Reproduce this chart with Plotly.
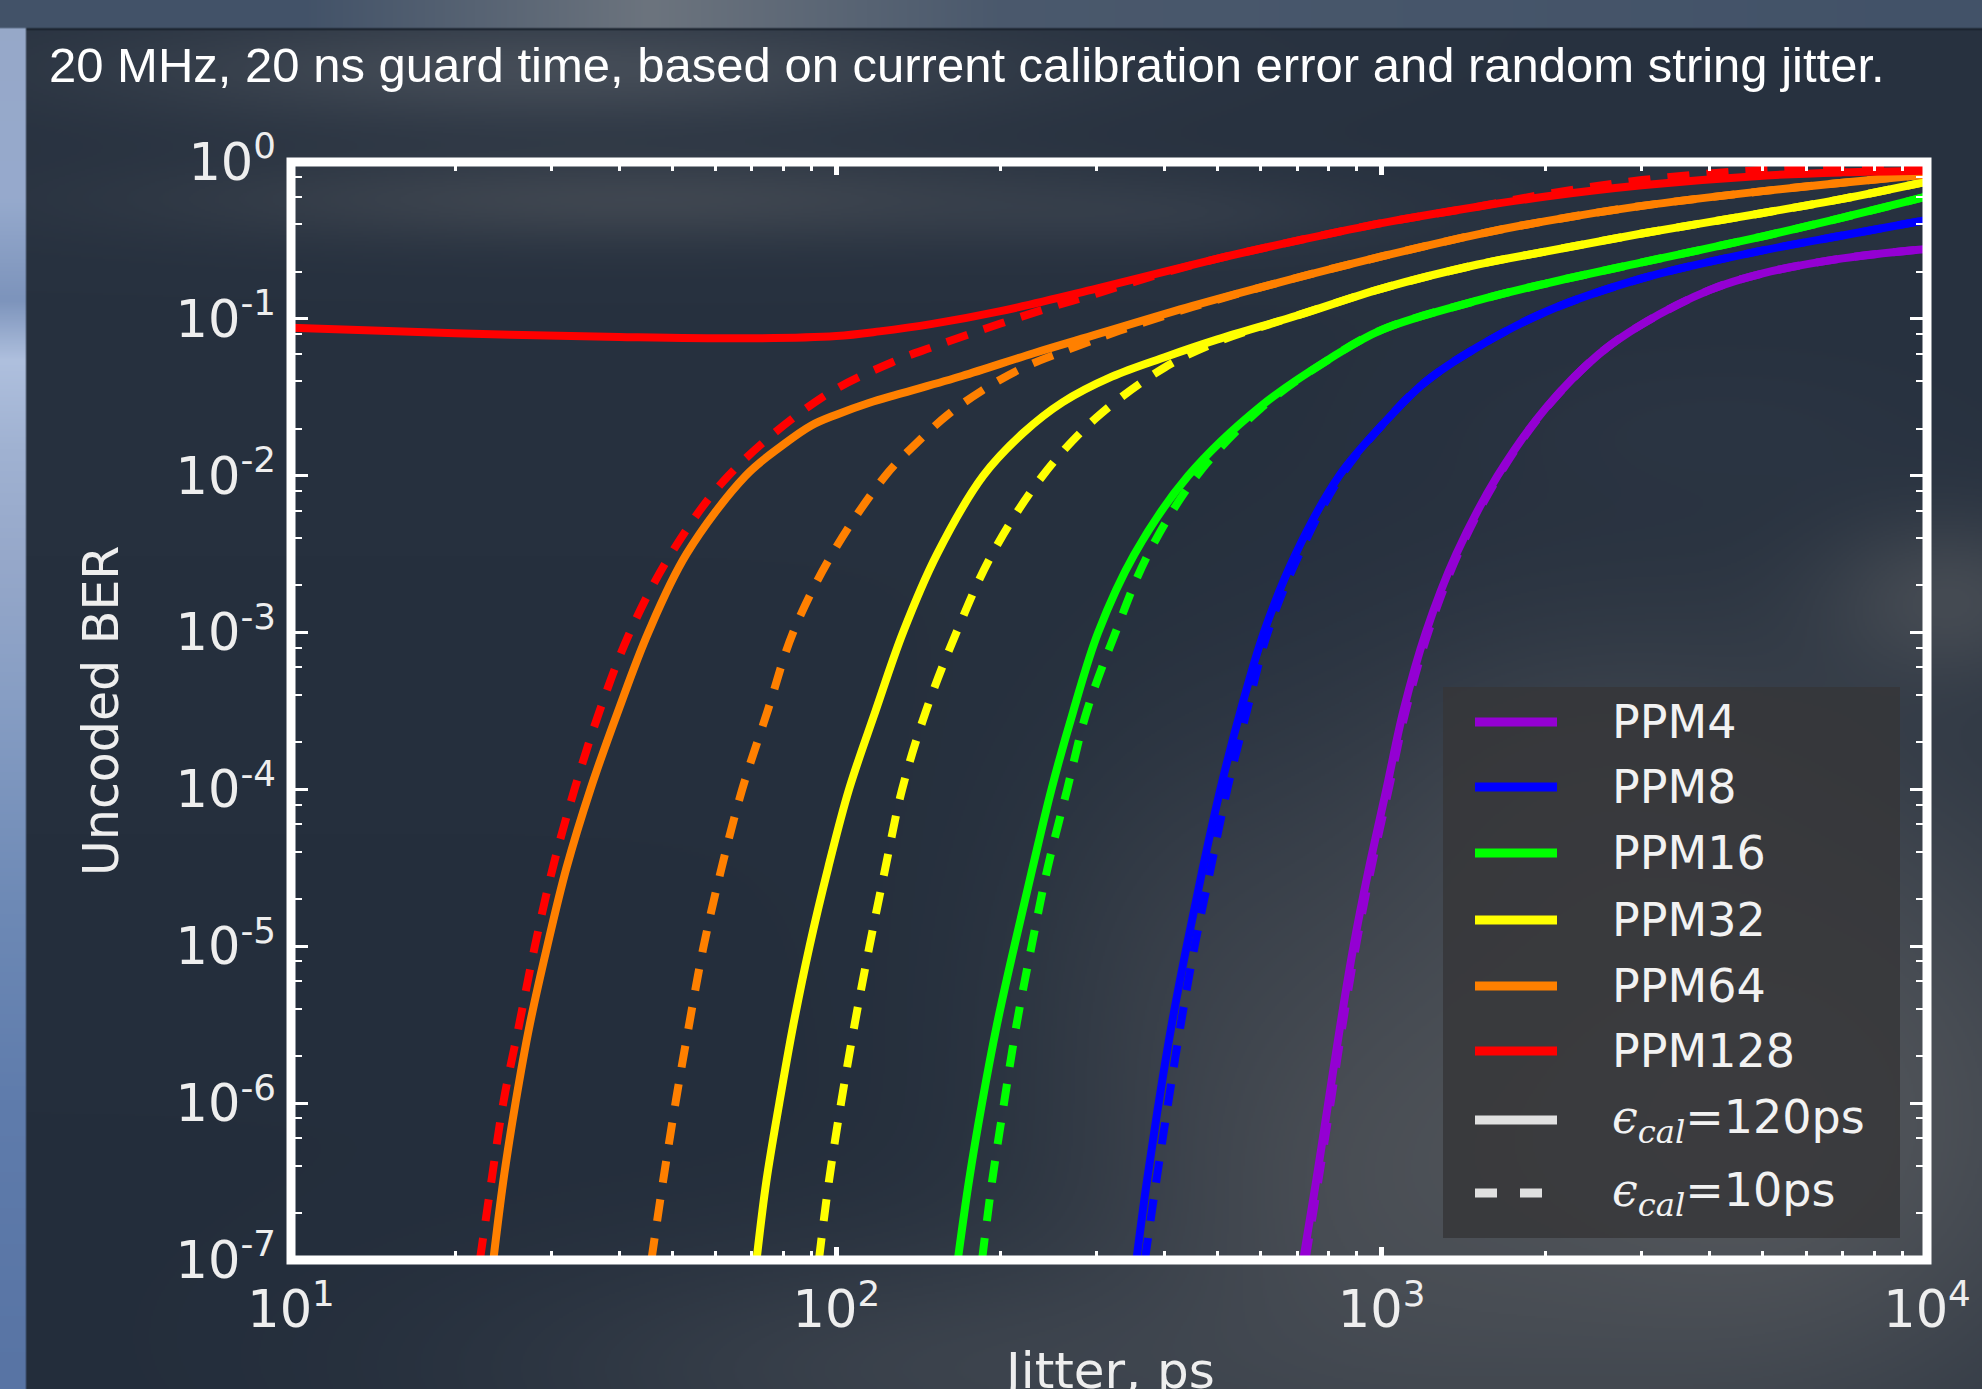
import base64
import struct
import zlib

import numpy as np
import plotly.graph_objects as go

# ---------------------------------------------------------------------------
# Uncoded BER versus timing jitter for PPM orders 4..128
# (20 MHz, 20 ns guard time), two calibration errors per order.
# ---------------------------------------------------------------------------

# PPM4
ppm4_jit_120 = [718, 758, 798, 840, 888, 948, 1020, 1096, 1205, 1370, 1632,
                2000, 2500, 3000, 4000, 5000, 7000, 10000]
ppm4_ber_120 = [1e-7, 3.16e-7, 1e-6, 3.16e-6, 1e-5, 3.16e-5, 1e-4, 3.16e-4,
                1e-3, 3.16e-3, 1e-2, 0.0270, 0.0594, 0.0923, 0.153, 0.195,
                0.243, 0.279]
ppm4_jit_10 = [725, 765, 806, 848, 897, 957, 1030, 1107, 1217, 1380, 1640,
               2000, 2500, 3000, 4000, 5000, 7000, 10000]
ppm4_ber_10 = [1e-7, 3.16e-7, 1e-6, 3.16e-6, 1e-5, 3.16e-5, 1e-4, 3.16e-4,
               1e-3, 3.16e-3, 1e-2, 0.0268, 0.0594, 0.0923, 0.153, 0.195,
               0.243, 0.279]

# PPM8
ppm8_jit_120 = [355, 371, 390, 412, 439, 470, 506, 551, 608, 695, 836,
                1000, 1200, 1500, 2000, 3000, 5000, 7000, 10000]
ppm8_ber_120 = [1e-7, 3.16e-7, 1e-6, 3.16e-6, 1e-5, 3.16e-5, 1e-4, 3.16e-4,
                1e-3, 3.16e-3, 1e-2, 0.0209, 0.0394, 0.0662, 0.111, 0.181,
                0.273, 0.340, 0.427]
ppm8_jit_10 = [368, 386, 406, 428, 454, 486, 521, 566, 618, 706, 843,
               1000, 1200, 1500, 2000, 3000, 5000, 7000, 10000]
ppm8_ber_10 = [1e-7, 3.16e-7, 1e-6, 3.16e-6, 1e-5, 3.16e-5, 1e-4, 3.16e-4,
               1e-3, 3.16e-3, 1e-2, 0.0209, 0.0394, 0.0662, 0.111, 0.181,
               0.273, 0.340, 0.427]

# PPM16
ppm16_jit_120 = [167, 175, 185, 197, 212, 229, 248, 272, 302, 352, 442,
                 600, 800, 1000, 1500, 2000, 3000, 5000, 7000, 10000]
ppm16_ber_120 = [1e-7, 3.16e-7, 1e-6, 3.16e-6, 1e-5, 3.16e-5, 1e-4, 3.16e-4,
                 1e-3, 3.16e-3, 1e-2, 0.0277, 0.0552, 0.0851, 0.131, 0.168,
                 0.229, 0.336, 0.442, 0.603]
ppm16_jit_10 = [185, 193, 203, 214, 228, 244, 265, 288, 325, 373, 458,
                600, 800, 1000, 1500, 2000, 3000, 5000, 7000, 10000]
ppm16_ber_10 = [1e-7, 3.16e-7, 1e-6, 3.16e-6, 1e-5, 3.16e-5, 1e-4, 3.16e-4,
                1e-3, 3.16e-3, 1e-2, 0.0268, 0.0552, 0.0851, 0.131, 0.168,
                0.229, 0.336, 0.442, 0.603]

# PPM32
ppm32_jit_120 = [71.4, 74.4, 78.6, 83.4, 89.3, 96.6, 105.5, 118, 132.5, 153, 186,
                 220, 260, 320, 400, 500, 700, 1000, 1500, 2000, 3000, 5000,
                 7000, 10000]
ppm32_ber_120 = [1e-7, 3.16e-7, 1e-6, 3.16e-6, 1e-5, 3.16e-5, 1e-4, 3.16e-4,
                 1e-3, 3.16e-3, 1e-2, 0.0187, 0.0294, 0.0428, 0.0570, 0.0740,
                 0.105, 0.156, 0.222, 0.269, 0.350, 0.473, 0.582, 0.750]
ppm32_jit_10 = [92.9, 96.9, 102, 108, 115, 123, 132, 146, 166, 193, 239,
                300, 400, 500, 700, 1000, 1500, 2000, 3000, 5000, 7000, 10000]
ppm32_ber_10 = [1e-7, 3.16e-7, 1e-6, 3.16e-6, 1e-5, 3.16e-5, 1e-4, 3.16e-4,
                1e-3, 3.16e-3, 1e-2, 0.0235, 0.0490, 0.0713, 0.105, 0.156,
                0.222, 0.269, 0.350, 0.473, 0.582, 0.750]

# PPM64
ppm64_jit_120 = [23.5, 24.5, 25.8, 27.4, 29.5, 32.0, 35.4, 39.8, 45.2, 53.1,
                 68.2, 80, 90, 100, 115, 130, 170, 230, 300, 450, 650, 1000,
                 1500, 2000, 3000, 5000, 7000, 10000]
ppm64_ber_120 = [1e-7, 3.16e-7, 1e-6, 3.16e-6, 1e-5, 3.16e-5, 1e-4, 3.16e-4,
                 1e-3, 3.16e-3, 1e-2, 0.0158, 0.0209, 0.0245, 0.0292, 0.0331,
                 0.0432, 0.0604, 0.0796, 0.121, 0.171, 0.250, 0.346, 0.420,
                 0.525, 0.652, 0.738, 0.832]
ppm64_jit_10 = [45.8, 48.1, 50.7, 53.7, 57.1, 61.6, 67.2, 74.8, 83.3, 98.2,
                123, 140, 160, 185, 220, 260, 330, 450, 650, 1000, 1500, 2000,
                3000, 5000, 7000, 10000]
ppm64_ber_10 = [1e-7, 3.16e-7, 1e-6, 3.16e-6, 1e-5, 3.16e-5, 1e-4, 3.16e-4,
                1e-3, 3.16e-3, 1e-2, 0.0160, 0.0244, 0.0349, 0.0488, 0.0617,
                0.0839, 0.119, 0.171, 0.250, 0.346, 0.420, 0.525, 0.652,
                0.738, 0.832]

# PPM128
ppm128_jit_120 = [10, 20, 40, 70, 100, 120, 150, 200, 300, 500, 700, 1000,
                  1500, 2000, 3000, 5000, 7000, 10000]
ppm128_ber_120 = [0.0877, 0.0809, 0.0767, 0.0752, 0.0778, 0.0832, 0.0929,
                  0.112, 0.156, 0.242, 0.315, 0.408, 0.519, 0.602, 0.710,
                  0.818, 0.859, 0.881]
ppm128_jit_10 = [22.2, 23.3, 24.5, 26.2, 28.0, 30.2, 33.1, 36.8, 41.8, 49.7,
                 63.4, 94.2, 130, 150, 200, 250, 300, 400, 500, 700, 1000,
                 1500, 2000, 3000, 5000, 7000, 10000]
ppm128_ber_10 = [1e-7, 3.16e-7, 1e-6, 3.16e-6, 1e-5, 3.16e-5, 1e-4, 3.16e-4,
                 1e-3, 3.16e-3, 1e-2, 0.0316, 0.055, 0.066, 0.0933, 0.120,
                 0.145, 0.197, 0.242, 0.315, 0.408, 0.519, 0.624, 0.767,
                 0.891, 0.923, 0.938]

series_names = ["PPM4", "PPM8", "PPM16", "PPM32", "PPM64", "PPM128"]
series_colors = ["#9400d3", "#0000ff", "#00ff00", "#ffff00", "#ff8000", "#ff0000"]
series_120 = [(ppm4_jit_120, ppm4_ber_120), (ppm8_jit_120, ppm8_ber_120),
              (ppm16_jit_120, ppm16_ber_120), (ppm32_jit_120, ppm32_ber_120),
              (ppm64_jit_120, ppm64_ber_120), (ppm128_jit_120, ppm128_ber_120)]
series_10 = [(ppm4_jit_10, ppm4_ber_10), (ppm8_jit_10, ppm8_ber_10),
             (ppm16_jit_10, ppm16_ber_10), (ppm32_jit_10, ppm32_ber_10),
             (ppm64_jit_10, ppm64_ber_10), (ppm128_jit_10, ppm128_ber_10)]

x_major = [10, 100, 1000, 10000]
x_major_text = ["10<sup>1</sup>", "10<sup>2</sup>", "10<sup>3</sup>", "10<sup>4</sup>"]
x_minor = [m * d for d in (10, 100, 1000) for m in range(2, 10)]
y_major = [1e-7, 1e-6, 1e-5, 1e-4, 1e-3, 1e-2, 1e-1, 1]
y_major_text = ["10<sup>-7</sup>", "10<sup>-6</sup>", "10<sup>-5</sup>",
                "10<sup>-4</sup>", "10<sup>-3</sup>", "10<sup>-2</sup>",
                "10<sup>-1</sup>", "10<sup>0</sup>"]
y_minor = [m * d for d in (1e-7, 1e-6, 1e-5, 1e-4, 1e-3, 1e-2, 1e-1)
           for m in (2, 4, 6, 8)]

cal_labels = ['<span style="font-family:DejaVu Serif"><i>\u03f5<sub>cal</sub></i></span>=120ps',
              '<span style="font-family:DejaVu Serif"><i>\u03f5<sub>cal</sub></i></span>=10ps']

# ---------------------------------------------------------------------------
# Page geometry (pixels)
# ---------------------------------------------------------------------------
W, H = 1982, 1389
L, R, T, B = 291, 1927, 162, 1260
PW, PH = R - L, B - T


def px_x(x):
    return (x - L) / PW


def px_y(y):
    return (B - y) / PH


# ---------------------------------------------------------------------------
# Soft cloudy slide background rendered to a PNG
# ---------------------------------------------------------------------------
S = 2.0
BW, BH = int(W / S), int(H / S)
gy, gx = np.mgrid[0:BH, 0:BW].astype(float)
gx = (gx + 0.5) * S
gy = (gy + 0.5) * S
top_col = np.array([40.0, 50.0, 64.0])
bot_col = np.array([35.0, 45.0, 59.0])
t = (gy / H)[..., None]
img = top_col * (1 - t) + bot_col * t


def haze(cx, cy, sx, sy, amp, rgb):
    global img
    w = amp * np.exp(-0.5 * (((gx - cx) / sx) ** 2 + ((gy - cy) / sy) ** 2))
    img = img * (1 - w[..., None]) + np.asarray(rgb, float) * w[..., None]


haze(560, 70, 300, 40, 0.55, (92, 98, 106))
haze(640, 200, 320, 32, 0.55, (82, 87, 94))
haze(1150, 215, 150, 25, 0.30, (70, 78, 90))
haze(1750, 1120, 300, 260, 0.85, (92, 94, 97))
haze(1380, 1180, 200, 200, 0.60, (86, 89, 93))
haze(1600, 820, 160, 120, 0.45, (80, 84, 90))
haze(1950, 600, 90, 60, 0.55, (90, 93, 97))
haze(980, 1370, 330, 90, 0.55, (78, 83, 90))
haze(1200, 940, 120, 150, 0.30, (70, 75, 82))
haze(1720, 430, 150, 50, 0.15, (60, 70, 85))

# top band of the slide and its dark rule
band = gy < 28
bx = np.interp(gx, [0, 300, 650, 1000, 1982], [0, 0, 1, 0.2, 0])
band_col = (np.array([66.0, 82.0, 104.0])[None, None, :] * (1 - bx[..., None])
            + np.array([108.0, 116.0, 126.0])[None, None, :] * bx[..., None])
img = np.where(band[..., None], band_col, img)
rule = (gy >= 28) & (gy < 31)
img[rule] = (26, 34, 45)

# light-blue strip on the left edge
strip = gx < 26
sy_ = gy[:, 0]
sr = np.interp(sy_, [0, 200, 300, 360, 450, 560, 700, 900, 1100, 1389],
               [150, 150, 125, 175, 160, 150, 135, 110, 95, 88])
sg = np.interp(sy_, [0, 200, 300, 360, 450, 560, 700, 900, 1100, 1389],
               [168, 170, 148, 192, 178, 168, 158, 138, 124, 116])
sb = np.interp(sy_, [0, 200, 300, 360, 450, 560, 700, 900, 1100, 1389],
               [200, 205, 188, 222, 210, 202, 196, 182, 172, 164])
strip_col = np.stack([sr, sg, sb], axis=-1)[:, None, :] * np.ones((1, BW, 1))
img = np.where((strip & ~band)[..., None], strip_col, img)

pix = np.clip(img, 0, 255).astype(np.uint8)


def png_bytes(arr):
    h, w, _ = arr.shape
    raw = b"".join(b"\x00" + arr[i].tobytes() for i in range(h))

    def chunk(tag, data):
        c = struct.pack(">I", len(data)) + tag + data
        return c + struct.pack(">I", zlib.crc32(tag + data) & 0xFFFFFFFF)

    return (b"\x89PNG\r\n\x1a\n"
            + chunk(b"IHDR", struct.pack(">IIBBBBB", w, h, 8, 2, 0, 0, 0))
            + chunk(b"IDAT", zlib.compress(raw, 9))
            + chunk(b"IEND", b""))


bg_src = "data:image/png;base64," + base64.b64encode(png_bytes(pix)).decode()

# ---------------------------------------------------------------------------
# Figure
# ---------------------------------------------------------------------------
fig = go.Figure()

LW = 8
DASH = "22px,17px"
SMOOTH = 1.0
for name, color, (xs, ys), (xd, yd) in zip(series_names, series_colors,
                                           series_120, series_10):
    fig.add_trace(go.Scatter(
        x=xs, y=ys, mode="lines", name=name + " 120ps",
        line=dict(color=color, width=LW, shape="spline", smoothing=SMOOTH),
        showlegend=False, hoverinfo="skip"))
    fig.add_trace(go.Scatter(
        x=xd, y=yd, mode="lines", name=name + " 10ps",
        line=dict(color=color, width=LW, dash=DASH, shape="spline",
                  smoothing=SMOOTH),
        showlegend=False, hoverinfo="skip"))

tick_font = dict(family="DejaVu Sans", size=51, color="#eeeeee")

fig.update_xaxes(
    type="log", range=[1, 4], showgrid=False, zeroline=False, showline=False,
    tickmode="array", tickvals=x_major, ticktext=x_major_text,
    ticks="inside", ticklen=13, tickwidth=5, tickcolor="white",
    mirror="ticks", tickfont=tick_font, ticklabelstandoff=15, automargin=False,
    minor=dict(tickmode="array", tickvals=x_minor, ticks="inside", ticklen=9,
               tickwidth=3, tickcolor="white", showgrid=False),
)
fig.update_yaxes(
    type="log", range=[-7, 0], showgrid=False, zeroline=False, showline=False,
    tickmode="array", tickvals=y_major, ticktext=y_major_text,
    ticks="inside", ticklen=17, tickwidth=2.5, tickcolor="white",
    mirror="ticks", tickfont=tick_font, ticklabelstandoff=14, automargin=False,
    minor=dict(tickmode="array", tickvals=y_minor, ticks="inside", ticklen=11,
               tickwidth=2, tickcolor="white", showgrid=False),
)

shapes = [
    # axes frame
    dict(type="rect", xref="paper", yref="paper", x0=0, x1=1, y0=0, y1=1,
         line=dict(color="white", width=9), fillcolor="rgba(0,0,0,0)",
         layer="above"),
    # legend panel
    dict(type="rect", xref="paper", yref="paper",
         x0=px_x(1443), x1=px_x(1900), y0=px_y(1238), y1=px_y(687),
         line=dict(width=0), fillcolor="rgba(54,54,56,0.82)", layer="above"),
]

annotations = []
row_y = [722, 787, 853, 920, 986, 1051, 1120, 1193]
legend_rows = [(n, c, "solid") for n, c in zip(series_names, series_colors)]
legend_rows += [(cal_labels[0], "#e0e0e0", "solid"),
                (cal_labels[1], "#e0e0e0", "22px,23px")]
for (label, color, dash), yrow in zip(legend_rows, row_y):
    shapes.append(dict(type="line", xref="paper", yref="paper",
                       x0=px_x(1475), x1=px_x(1557), y0=px_y(yrow), y1=px_y(yrow),
                       line=dict(color=color, width=9, dash=dash), layer="above"))
    annotations.append(dict(
        text=label, xref="paper", yref="paper", x=px_x(1610), y=px_y(yrow),
        xanchor="left", yanchor="middle", showarrow=False,
        font=dict(family="DejaVu Sans", size=46, color="#f2f2f2")))

# slide heading
annotations.append(dict(
    text="20 MHz, 20 ns guard time, based on current calibration error and random string jitter.",
    xref="paper", yref="paper", x=px_x(47), y=px_y(65), xanchor="left",
    yanchor="middle", showarrow=False,
    font=dict(family="Liberation Sans Narrow, Liberation Sans, sans-serif",
              size=49, color="#ffffff")))
# axis titles
annotations.append(dict(
    text="Uncoded BER", xref="paper", yref="paper", x=px_x(101), y=0.5,
    xanchor="center", yanchor="middle", textangle=-90, showarrow=False,
    font=dict(family="DejaVu Sans", size=49, color="#eeeeee")))
annotations.append(dict(
    text="Jitter, ps", xref="paper", yref="paper", x=0.5, y=px_y(1371),
    xanchor="center", yanchor="middle", showarrow=False,
    font=dict(family="DejaVu Sans", size=50, color="#eeeeee")))

fig.update_layout(
    width=W, height=H, autosize=False,
    margin=dict(l=L, r=W - R, t=T, b=H - B, pad=0),
    paper_bgcolor="#28323f", plot_bgcolor="rgba(0,0,0,0)",
    showlegend=False, shapes=shapes, annotations=annotations,
    images=[dict(source=bg_src, xref="paper", yref="paper",
                 x=px_x(0), y=px_y(0), sizex=W / PW, sizey=H / PH,
                 xanchor="left", yanchor="top", sizing="stretch",
                 layer="below")],
)

fig.write_html("out.html")
